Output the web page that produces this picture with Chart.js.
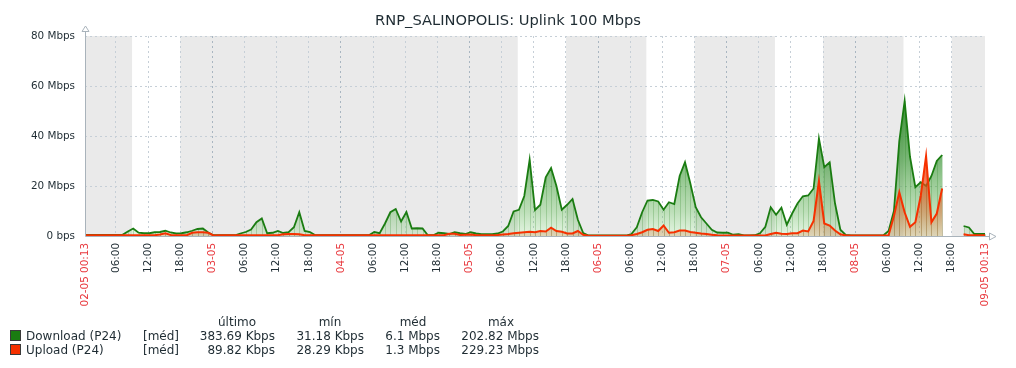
<!DOCTYPE html>
<html>
<head>
<meta charset="utf-8">
<script src="https://cdn.jsdelivr.net/npm/chart.js@4.4.1/dist/chart.umd.min.js"></script>
<style>
  html, body { margin: 0; padding: 0; background: #fff; }
  #wrap { position: relative; width: 1016px; height: 368px; overflow: hidden; }
  #c { position: absolute; left: 0; top: 0; }
  #title { position: absolute; left: 0; top: 11px; width: 1016px; text-align: center;
           font-family: 'DejaVu Sans', sans-serif; font-size: 14.67px; line-height: 17px; color: #1f2c33; }
  .lg { position: absolute; font-family: 'DejaVu Sans', sans-serif; font-size: 12px; line-height: 14px;
        color: #1f2c33; white-space: nowrap; }
  .sq { position: absolute; width: 9px; height: 9px; border: 1px solid #3a3a3a; }
</style>
</head>
<body>
<div id="wrap">
  <canvas id="c" width="1016" height="368" style="width:1016px;height:368px"></canvas>
  <div id="title"></div>
  <div id="legend"></div>
</div>
<script>
// ---------------- data ----------------
const chartTitle = 'RNP_SALINOPOLIS: Uplink 100 Mbps';
const startLabel = '02-05 00:13';
const endLabel = '09-05 00:13';
const startMinute = 13;              // period starts at 00:13
const periodHours = 168;
const dayLabels = ['02-05', '03-05', '04-05', '05-05', '06-05', '07-05', '08-05', '09-05'];
const hourLabels = ['06:00', '12:00', '18:00'];
const workingDays = ['02-05', '05-05', '06-05', '07-05', '08-05'];
const workHours = [9, 18];
const yTickLabels = ['0 bps', '20 Mbps', '40 Mbps', '60 Mbps', '80 Mbps'];

// hourly values in Mbps, hour 0 = 02-05 00:13
const download = [
  0.4,0.4,0.4,0.4,0.4,0.4,0.4,0.5,1.8,3.0,1.3,1.1, 1.1,1.5,1.6,2.1,1.4,1.0,1.1,1.5,2.1,2.8,3.0,1.4,
  0.3,0.3,0.3,0.3,0.3,1.0,1.6,2.6,5.5,7.0,1.1,1.3, 2.0,1.2,1.5,3.5,9.5,2.0,1.6,0.3,0.3,0.3,0.3,0.3,
  0.3,0.3,0.3,0.3,0.3,0.3,1.6,1.1,5.0,9.5,10.8,5.8, 9.6,3.0,3.1,3.0,0.3,0.3,1.3,1.1,0.8,1.5,1.1,0.8,
  1.5,1.0,0.7,0.7,0.7,1.0,1.8,4.0,9.8,10.5,16.0,30.5, 10.4,12.5,23.5,27.2,20.0,10.5,12.5,14.8,6.5,1.2,0.2,0.2,
  0.2,0.2,0.2,0.2,0.2,0.2,0.8,3.5,9.5,14.2,14.4,13.8, 10.5,13.5,12.8,24.0,29.5,21.0,11.5,7.5,5.0,2.5,1.4,1.3,
  1.3,0.5,0.7,0.2,0.2,0.3,1.1,3.7,11.5,8.5,11.3,4.5, 9.0,13.0,15.9,16.2,19.0,39.0,27.5,29.5,13.1,2.5,0.4,0.2,
  0.2,0.2,0.2,0.2,0.2,0.2,2.0,10.0,38.0,54.0,31.7,19.5, 21.5,20.0,24.0,30.0,32.4,null,null,null,4.0,3.4,0.8,0.8,
  0.8
];
const upload = [
  0.3,0.3,0.3,0.3,0.3,0.3,0.3,0.3,0.3,0.3,0.3,0.3, 0.3,0.3,0.6,1.1,0.4,0.3,0.3,0.3,1.3,1.5,1.5,1.3,
  0.2,0.3,0.3,0.3,0.3,0.3,0.3,0.3,0.3,0.3,0.3,0.3, 0.3,0.7,0.8,0.8,0.7,0.3,0.3,0.3,0.3,0.3,0.3,0.3,
  0.3,0.3,0.3,0.3,0.3,0.3,0.3,0.3,0.3,0.3,0.3,0.3, 0.3,0.3,0.3,0.3,0.3,0.3,0.3,0.3,0.9,0.9,0.4,0.5,
  0.6,0.3,0.3,0.3,0.3,0.4,0.6,0.8,1.1,1.3,1.5,1.7, 1.5,2.0,1.8,3.3,2.0,1.7,1.0,1.0,2.0,0.5,0.15,0.15,
  0.15,0.15,0.15,0.15,0.15,0.15,0.3,0.8,1.5,2.5,2.8,2.0, 4.2,1.3,1.5,2.2,2.2,1.6,1.3,1.0,0.8,0.5,0.3,0.2,
  0.2,0.2,0.2,0.2,0.2,0.2,0.2,0.2,0.8,1.3,0.9,0.8, 1.1,1.1,2.2,1.8,6.0,22.0,5.0,4.2,2.2,0.7,0.2,0.2,
  0.2,0.2,0.2,0.2,0.2,0.2,0.3,8.0,17.5,9.5,3.7,5.5, 16.0,32.0,5.5,9.0,19.0,null,null,null,0.7,0.3,0.3,0.3,
  0.3
];

const seriesNames = ['Download (P24)', 'Upload (P24)'];
const seriesFunc = ['[méd]', '[méd]'];
const legendHeaders = ['último', 'mín', 'méd', 'máx'];
const lastValues = ['383.69 Kbps', '89.82 Kbps'];
const minValues = ['31.18 Kbps', '28.29 Kbps'];
const avgValues = ['6.1 Mbps', '1.3 Mbps'];
const maxValues = ['202.82 Mbps', '229.23 Mbps'];

// ---------------- styles ----------------
const COLORS = ['#1A7C11', '#F63100'];
const TEXT = '#1f2c33';
const RED = '#e8383d';

// ---------------- ticks ----------------
const offsetH = startMinute / 60;
const tickValues = [0];
const tickTexts = [startLabel];
const tickIsDate = [true];
for (let d = 0; d < dayLabels.length; d++) {
  for (let k = 0; k < 4; k++) {
    const t = d * 24 + k * 6 - offsetH;
    if (t > 0 && t < periodHours - 1) {
      tickValues.push(t);
      tickTexts.push(k === 0 ? dayLabels[d] : hourLabels[k - 1]);
      tickIsDate.push(k === 0);
    }
  }
}
tickValues.push(periodHours);
tickTexts.push(endLabel);
tickIsDate.push(true);

const hours = download.map((_, i) => i);

// ---------------- plugins ----------------
const bandsPlugin = {
  id: 'bands',
  beforeDraw(chart) {
    const { ctx, chartArea: a, scales: { x } } = chart;
    ctx.save();
    ctx.fillStyle = '#eaeaea';
    ctx.fillRect(a.left, a.top, a.right - a.left, a.bottom - a.top);
    ctx.fillStyle = '#ffffff';
    workingDays.forEach(day => {
      const di = dayLabels.indexOf(day);
      const s = x.getPixelForValue(di * 24 + workHours[0] - offsetH);
      const e = x.getPixelForValue(di * 24 + workHours[1] - offsetH);
      const l = Math.max(s, a.left), r = Math.min(e, a.right);
      if (r > l) ctx.fillRect(l, a.top, r - l, a.bottom - a.top);
    });
    ctx.restore();
  }
};

const stripesPlugin = {
  id: 'stripes',
  beforeDatasetDraw(chart, args) {
    const { ctx, chartArea: a } = chart;
    const meta = args.meta;
    const y0 = chart.scales.y.getPixelForValue(0);
    ctx.save();
    ctx.strokeStyle = args.index === 0 ? 'rgba(26,124,17,0.22)' : 'rgba(170,70,20,0.22)';
    ctx.lineWidth = 1;
    ctx.beginPath();
    meta.data.forEach(p => {
      if (p.skip) return;
      const px = Math.round(p.x) + 0.5;
      ctx.moveTo(px, p.y);
      ctx.lineTo(px, y0);
    });
    ctx.stroke();
    ctx.restore();
  }
};

const axesPlugin = {
  id: 'axesDeco',
  afterDraw(chart) {
    const { ctx, chartArea: a } = chart;
    ctx.save();
    ctx.strokeStyle = '#a9b3bb';
    ctx.lineWidth = 1;
    const lx = Math.round(a.left) + 0.5;
    const by = Math.round(a.bottom) + 0.5;
    ctx.beginPath();
    ctx.moveTo(lx, a.top - 5);
    ctx.lineTo(lx, by);
    ctx.lineTo(a.right + 4, by);
    ctx.stroke();
    // top arrow
    ctx.fillStyle = '#ffffff';
    ctx.beginPath();
    ctx.moveTo(lx, a.top - 10);
    ctx.lineTo(lx - 3.5, a.top - 4.5);
    ctx.lineTo(lx + 3.5, a.top - 4.5);
    ctx.closePath();
    ctx.fill();
    ctx.stroke();
    // right arrow
    ctx.beginPath();
    ctx.moveTo(a.right + 11, by);
    ctx.lineTo(a.right + 4.5, by - 3.5);
    ctx.lineTo(a.right + 4.5, by + 3.5);
    ctx.closePath();
    ctx.fill();
    ctx.stroke();
    ctx.restore();
  }
};

function vGradient(stops) {
  return (context) => {
    const { ctx, chartArea } = context.chart;
    if (!chartArea) return null;
    const g = ctx.createLinearGradient(0, chartArea.bottom, 0, chartArea.top);
    stops.forEach(s => g.addColorStop(s[0], s[1]));
    return g;
  };
}

// ---------------- chart ----------------
Chart.defaults.font.family = "'DejaVu Sans', sans-serif";

new Chart(document.getElementById('c'), {
  type: 'line',
  data: {
    labels: hours,
    datasets: [
      {
        label: seriesNames[0],
        data: download,
        order: 1,
        borderColor: COLORS[0],
        borderWidth: 1.8,
        pointRadius: 0,
        tension: 0,
        fill: 'origin',
        backgroundColor: vGradient([
          [0, 'rgba(120,200,110,0.20)'],
          [0.12, 'rgba(100,180,90,0.42)'],
          [0.375, 'rgba(60,150,55,0.68)'],
          [0.7, 'rgba(30,125,25,0.9)'],
          [1, 'rgba(26,124,17,1)']
        ])
      },
      {
        label: seriesNames[1],
        data: upload,
        order: 0,
        borderColor: COLORS[1],
        borderWidth: 2,
        pointRadius: 0,
        tension: 0,
        fill: 'origin',
        backgroundColor: vGradient([
          [0, 'rgba(205,130,70,0.28)'],
          [0.1, 'rgba(220,105,45,0.45)'],
          [0.3, 'rgba(240,70,20,0.75)'],
          [1, 'rgba(246,49,0,0.95)']
        ])
      }
    ]
  },
  options: {
    responsive: false,
    animation: false,
    events: [],
    layout: { padding: { top: 36, right: 31, left: 0, bottom: 0 } },
    plugins: { legend: { display: false }, title: { display: false }, tooltip: { enabled: false } },
    scales: {
      x: {
        type: 'linear',
        min: 0,
        max: periodHours,
        afterBuildTicks: (scale) => { scale.ticks = tickValues.map(v => ({ value: v })); },
        afterFit: (scale) => { scale.height = 132; },
        grid: {
          drawTicks: false,
          lineWidth: 1,
          color: (ctx) => {
            const i = ctx.index;
            if (i === 0 || i === tickValues.length - 1) return 'rgba(0,0,0,0)';
            return tickIsDate[i] ? '#a9b6c1' : '#c6cfd7';
          }
        },
        border: { display: false, dash: [2, 3] },
        ticks: {
          autoSkip: false,
          minRotation: 90,
          maxRotation: 90,
          padding: 7,
          font: { size: 10.4 },
          color: (ctx) => tickIsDate[ctx.index] ? RED : TEXT,
          callback: (v, i) => tickTexts[i]
        }
      },
      y: {
        min: 0,
        max: 80,
        afterFit: (scale) => { scale.width = 85; },
        grid: {
          drawTicks: false,
          lineWidth: 1,
          color: (ctx) => ctx.tick && ctx.tick.value === 0 ? 'rgba(0,0,0,0)' : '#c6cfd7'
        },
        border: { display: false, dash: [2, 3] },
        ticks: {
          stepSize: 20,
          padding: 10,
          font: { size: 10.4 },
          color: TEXT,
          callback: (v) => yTickLabels[Math.round(v / 20)]
        }
      }
    }
  },
  plugins: [bandsPlugin, stripesPlugin, axesPlugin]
});

// ---------------- title & legend (HTML text) ----------------
document.getElementById('title').textContent = chartTitle;

(function buildLegend() {
  const L = document.getElementById('legend');
  const add = (text, left, top, width, align) => {
    const el = document.createElement('div');
    el.className = 'lg';
    el.textContent = text;
    el.style.left = left + 'px';
    el.style.top = top + 'px';
    if (width) { el.style.width = width + 'px'; el.style.textAlign = align; }
    L.appendChild(el);
  };
  const headerCenters = [237, 330, 413, 501];
  const colRights = [275, 364, 440, 539];
  legendHeaders.forEach((h, i) => add(h, headerCenters[i] - 50, 315, 100, 'center'));
  const cols = [lastValues, minValues, avgValues, maxValues];
  seriesNames.forEach((name, r) => {
    const top = 329 + r * 14;
    const sq = document.createElement('div');
    sq.className = 'sq';
    sq.style.left = '10px';
    sq.style.top = (top + 1) + 'px';
    sq.style.background = COLORS[r];
    L.appendChild(sq);
    add(name, 26, top);
    add(seriesFunc[r], 143, top);
    cols.forEach((col, c) => add(col[r], colRights[c] - 120, top, 120, 'right'));
  });
})();
</script>
</body>
</html>
